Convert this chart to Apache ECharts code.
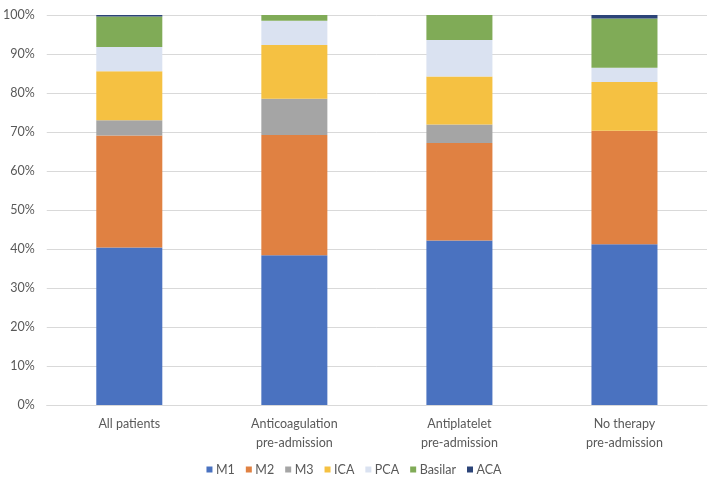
<!DOCTYPE html>
<html>
<head>
<meta charset="utf-8">
<script src="https://cdn.jsdelivr.net/npm/echarts@6/dist/echarts.min.js"></script>
<style>html,body{margin:0;padding:0;background:#fff}#c{width:708px;height:480px}</style>
</head>
<body>
<div id="c"></div>
<script>
const categories = ['All patients', 'Anticoagulation\npre-admission', 'Antiplatelet\npre-admission', 'No therapy\npre-admission'];
const M1 = [40.4, 38.4, 42.2, 41.2];
const M2 = [28.7, 30.8, 25.0, 29.1];
const M3 = [3.9, 9.3, 4.7, 0];
const ICA = [12.6, 13.8, 12.3, 12.5];
const PCA = [6.2, 6.2, 9.4, 3.7];
const Basilar = [7.8, 1.5, 6.4, 12.6];
const ACA = [0.4, 0, 0, 0.9];
const seriesNames = ['M1', 'M2', 'M3', 'ICA', 'PCA', 'Basilar', 'ACA'];
const seriesData = [M1, M2, M3, ICA, PCA, Basilar, ACA];
const colors = ['#4a72c0', '#e08142', '#a5a5a5', '#f5c142', '#dae2f1', '#80ab57', '#2c4478'];

const chart = echarts.init(document.getElementById('c'), null, {renderer: 'canvas'});
const font = 'Lato, "Open Sans", sans-serif';
chart.setOption({
  animation: false,
  color: colors,
  grid: {left: 43, right: 1, top: 15, bottom: 75},
  legend: {
    data: seriesNames,
    top: 458,
    left: 'center',
    itemWidth: 6, itemHeight: 6, itemGap: 11,
    icon: 'rect',
    textStyle: {color: '#595959', fontSize: 12.5, fontFamily: font, padding: [0, 0, 0, -1.5]}
  },
  xAxis: {
    type: 'category',
    data: categories,
    axisLine: {lineStyle: {color: '#d9d9d9', width: 1}},
    axisTick: {show: false},
    axisLabel: {color: '#595959', fontSize: 12.5, fontFamily: font, margin: 9, lineHeight: 19, interval: 0}
  },
  yAxis: {
    type: 'value',
    min: 0, max: 100, interval: 10,
    axisLine: {show: false},
    axisTick: {show: false},
    splitLine: {lineStyle: {color: '#d9d9d9', width: 1}},
    axisLabel: {color: '#595959', fontSize: 12.5, fontFamily: font, margin: 12, formatter: '{value}%'}
  },
  series: seriesNames.map((n, i) => ({
    name: n,
    type: 'bar',
    stack: 'total',
    barWidth: '40%',
    data: seriesData[i]
  }))
});
</script>
</body>
</html>
